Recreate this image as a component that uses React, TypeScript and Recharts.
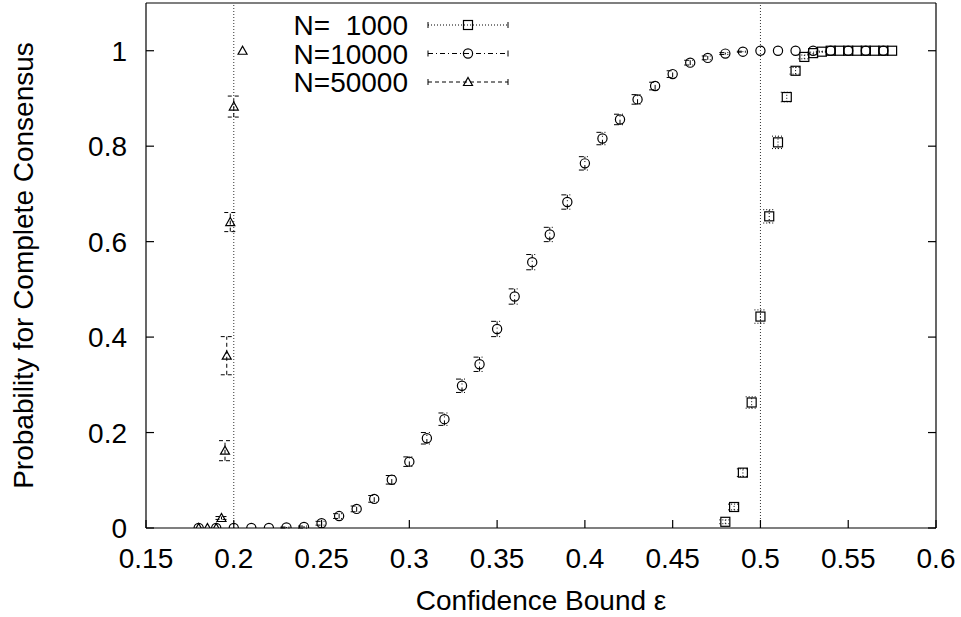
import React from "react";
import { ScatterChart, Scatter, XAxis, YAxis, ErrorBar, ReferenceLine } from "recharts";

// N = 1000
const eps1000 = [0.48, 0.485, 0.49, 0.495, 0.5, 0.505, 0.51, 0.515, 0.52, 0.525, 0.53, 0.535, 0.54, 0.545, 0.55, 0.555, 0.56, 0.565, 0.57, 0.575];
const prob1000 = [0.013, 0.044, 0.116, 0.263, 0.443, 0.653, 0.808, 0.903, 0.958, 0.987, 0.995, 0.998, 1, 1, 1, 1, 1, 1, 1, 1];
const err1000 = [0.004, 0.006, 0.008, 0.012, 0.014, 0.014, 0.013, 0.01, 0.007, 0.004, 0.002, 0.001, 0, 0, 0, 0, 0, 0, 0, 0];

// N = 10000
const eps10000 = [0.18, 0.19, 0.2, 0.21, 0.22, 0.23, 0.24, 0.25, 0.26, 0.27, 0.28, 0.29, 0.3, 0.31, 0.32, 0.33, 0.34, 0.35, 0.36, 0.37, 0.38, 0.39, 0.4, 0.41, 0.42, 0.43, 0.44, 0.45, 0.46, 0.47, 0.48, 0.49, 0.5, 0.51, 0.52, 0.53, 0.54, 0.55, 0.56, 0.57];
const prob10000 = [0, 0, 0, 0, 0, 0.001, 0.002, 0.01, 0.025, 0.04, 0.061, 0.101, 0.139, 0.188, 0.228, 0.298, 0.343, 0.417, 0.485, 0.557, 0.615, 0.683, 0.764, 0.816, 0.856, 0.898, 0.926, 0.951, 0.975, 0.985, 0.994, 0.998, 1, 1, 1, 1, 1, 1, 1, 1];
const err10000 = [0, 0, 0, 0, 0, 0.001, 0.002, 0.004, 0.005, 0.006, 0.007, 0.009, 0.01, 0.012, 0.013, 0.014, 0.015, 0.016, 0.016, 0.016, 0.015, 0.015, 0.014, 0.013, 0.011, 0.01, 0.008, 0.007, 0.005, 0.004, 0.002, 0.001, 0, 0, 0, 0, 0, 0, 0, 0];

// N = 50000
const eps50000 = [0.18, 0.185, 0.19, 0.193, 0.195, 0.196, 0.198, 0.2, 0.205];
const prob50000 = [0, 0, 0, 0.021, 0.162, 0.361, 0.641, 0.883, 1];
const err50000 = [0, 0, 0, 0.003, 0.021, 0.04, 0.02, 0.022, 0];

const xTicks = [0.15, 0.2, 0.25, 0.3, 0.35, 0.4, 0.45, 0.5, 0.55, 0.6];
const yTicks = [0, 0.2, 0.4, 0.6, 0.8, 1];
const thresholds = [0.2, 0.5];

const FONT = "'Liberation Sans', Arial, Helvetica, sans-serif";
const FS = 28;

const zip = (xs: number[], ys: number[], es: number[]) =>
  xs.map((x, i) => ({ x, y: ys[i], err: es[i] }));

const fmt = (v: number) => String(+v.toFixed(2));

const Square = ({ cx, cy }: any) => (
  <rect x={cx - 4.5} y={cy - 4.5} width={9} height={9} fill="none" stroke="#000" strokeWidth={1.2} />
);
const Circle = ({ cx, cy }: any) => (
  <circle cx={cx} cy={cy} r={4.6} fill="none" stroke="#000" strokeWidth={1.2} />
);
const Triangle = ({ cx, cy }: any) => (
  <path d={`M${cx - 4.5},${cy + 3.5} L${cx + 4.5},${cy + 3.5} L${cx},${cy - 4.5} Z`} fill="none" stroke="#000" strokeWidth={1.2} />
);

const series = [
  { name: "N=  1000", data: zip(eps1000, prob1000, err1000), Shape: Square, dash: "1 2" },
  { name: "N=10000", data: zip(eps10000, prob10000, err10000), Shape: Circle, dash: "5 3 1 3" },
  { name: "N=50000", data: zip(eps50000, prob50000, err50000), Shape: Triangle, dash: "4 3" },
];

const BottomTick = ({ x, y, payload }: any) => (
  <g>
    <line x1={x} x2={x} y1={y} y2={y - 8} stroke="#000" strokeWidth={1.2} />
    <text x={x} y={y + 40} textAnchor="middle" fontSize={FS} fontFamily={FONT} fill="#000">
      {fmt(payload.value)}
    </text>
  </g>
);
const TopTick = ({ x, y }: any) => <line x1={x} x2={x} y1={y} y2={y + 8} stroke="#000" strokeWidth={1.2} />;
const LeftTick = ({ x, y, payload }: any) => (
  <g>
    <line x1={x} x2={x + 8} y1={y} y2={y} stroke="#000" strokeWidth={1.2} />
    <text x={x - 19} y={y + 10} textAnchor="end" fontSize={FS} fontFamily={FONT} fill="#000">
      {fmt(payload.value)}
    </text>
  </g>
);
const RightTick = ({ x, y }: any) => <line x1={x} x2={x - 8} y1={y} y2={y} stroke="#000" strokeWidth={1.2} />;

const XLabel = ({ viewBox }: any) => (
  <text x={viewBox.x + viewBox.width / 2} y={viewBox.y + 82} textAnchor="middle" fontSize={FS} fontFamily={FONT} fill="#000">
    Confidence Bound ε
  </text>
);
const YLabel = ({ viewBox }: any) => {
  const cx = 33;
  const cy = viewBox.y + viewBox.height / 2;
  return (
    <text x={cx} y={cy} transform={`rotate(-90, ${cx}, ${cy})`} textAnchor="middle" fontSize={FS} fontFamily={FONT} fill="#000">
      Probability for Complete Consensus
    </text>
  );
};

function Key() {
  return (
    <svg width={961} height={120} style={{ position: "absolute", left: 0, top: 0, pointerEvents: "none" }}>
      {series.map((s, i) => {
        const y = 25 + i * 28.5;
        const { Shape } = s;
        return (
          <g key={s.name}>
            <text x={408} y={y + 10} textAnchor="end" fontSize={FS} fontFamily={FONT} fill="#000" style={{ whiteSpace: "pre" }}>
              {s.name}
            </text>
            <line x1={428} x2={508} y1={y} y2={y} stroke="#000" strokeWidth={1} strokeDasharray={s.dash} />
            <line x1={428} x2={428} y1={y - 3} y2={y + 3} stroke="#000" strokeWidth={1} />
            <line x1={508} x2={508} y1={y - 3} y2={y + 3} stroke="#000" strokeWidth={1} />
            <Shape cx={468} cy={y} />
          </g>
        );
      })}
    </svg>
  );
}

export default function App() {
  return (
    <div style={{ position: "absolute", left: 0, top: 0, width: 961, height: 617, background: "#fff" }}>
      <ScatterChart width={961} height={617} margin={{ top: 0, right: 0, bottom: 0, left: 0 }}>
        <XAxis
          xAxisId={0}
          type="number"
          dataKey="x"
          domain={[0.15, 0.6]}
          ticks={xTicks}
          height={89}
          tickSize={0}
          tickMargin={0}
          tickLine={false}
          tick={<BottomTick />}
          axisLine={{ stroke: "#000", strokeWidth: 1.2 }}
          label={<XLabel />}
          allowDataOverflow
        />
        <XAxis
          xAxisId="top"
          orientation="top"
          type="number"
          domain={[0.15, 0.6]}
          ticks={xTicks}
          height={3}
          tickSize={0}
          tickMargin={0}
          tickLine={false}
          tick={<TopTick />}
          axisLine={{ stroke: "#000", strokeWidth: 1.2 }}
          allowDataOverflow
        />
        <YAxis
          yAxisId={0}
          type="number"
          dataKey="y"
          domain={[0, 1.1]}
          ticks={yTicks}
          width={146}
          tickSize={0}
          tickMargin={0}
          tickLine={false}
          tick={<LeftTick />}
          axisLine={{ stroke: "#000", strokeWidth: 1.2 }}
          label={<YLabel />}
          allowDataOverflow
        />
        <YAxis
          yAxisId="right"
          orientation="right"
          type="number"
          domain={[0, 1.1]}
          ticks={yTicks}
          width={25}
          tickSize={0}
          tickMargin={0}
          tickLine={false}
          tick={<RightTick />}
          axisLine={{ stroke: "#000", strokeWidth: 1.2 }}
          allowDataOverflow
        />
        {thresholds.map((t) => (
          <ReferenceLine key={t} x={t} stroke="#333" strokeWidth={1} strokeDasharray="1 2" />
        ))}
        {series.map((s) => (
          <Scatter key={s.name} name={s.name} data={s.data} shape={<s.Shape />} isAnimationActive={false}>
            <ErrorBar dataKey="err" direction="y" width={6} stroke="#000" strokeWidth={1} strokeDasharray={s.dash} isAnimationActive={false} />
          </Scatter>
        ))}
      </ScatterChart>
      <Key />
    </div>
  );
}
